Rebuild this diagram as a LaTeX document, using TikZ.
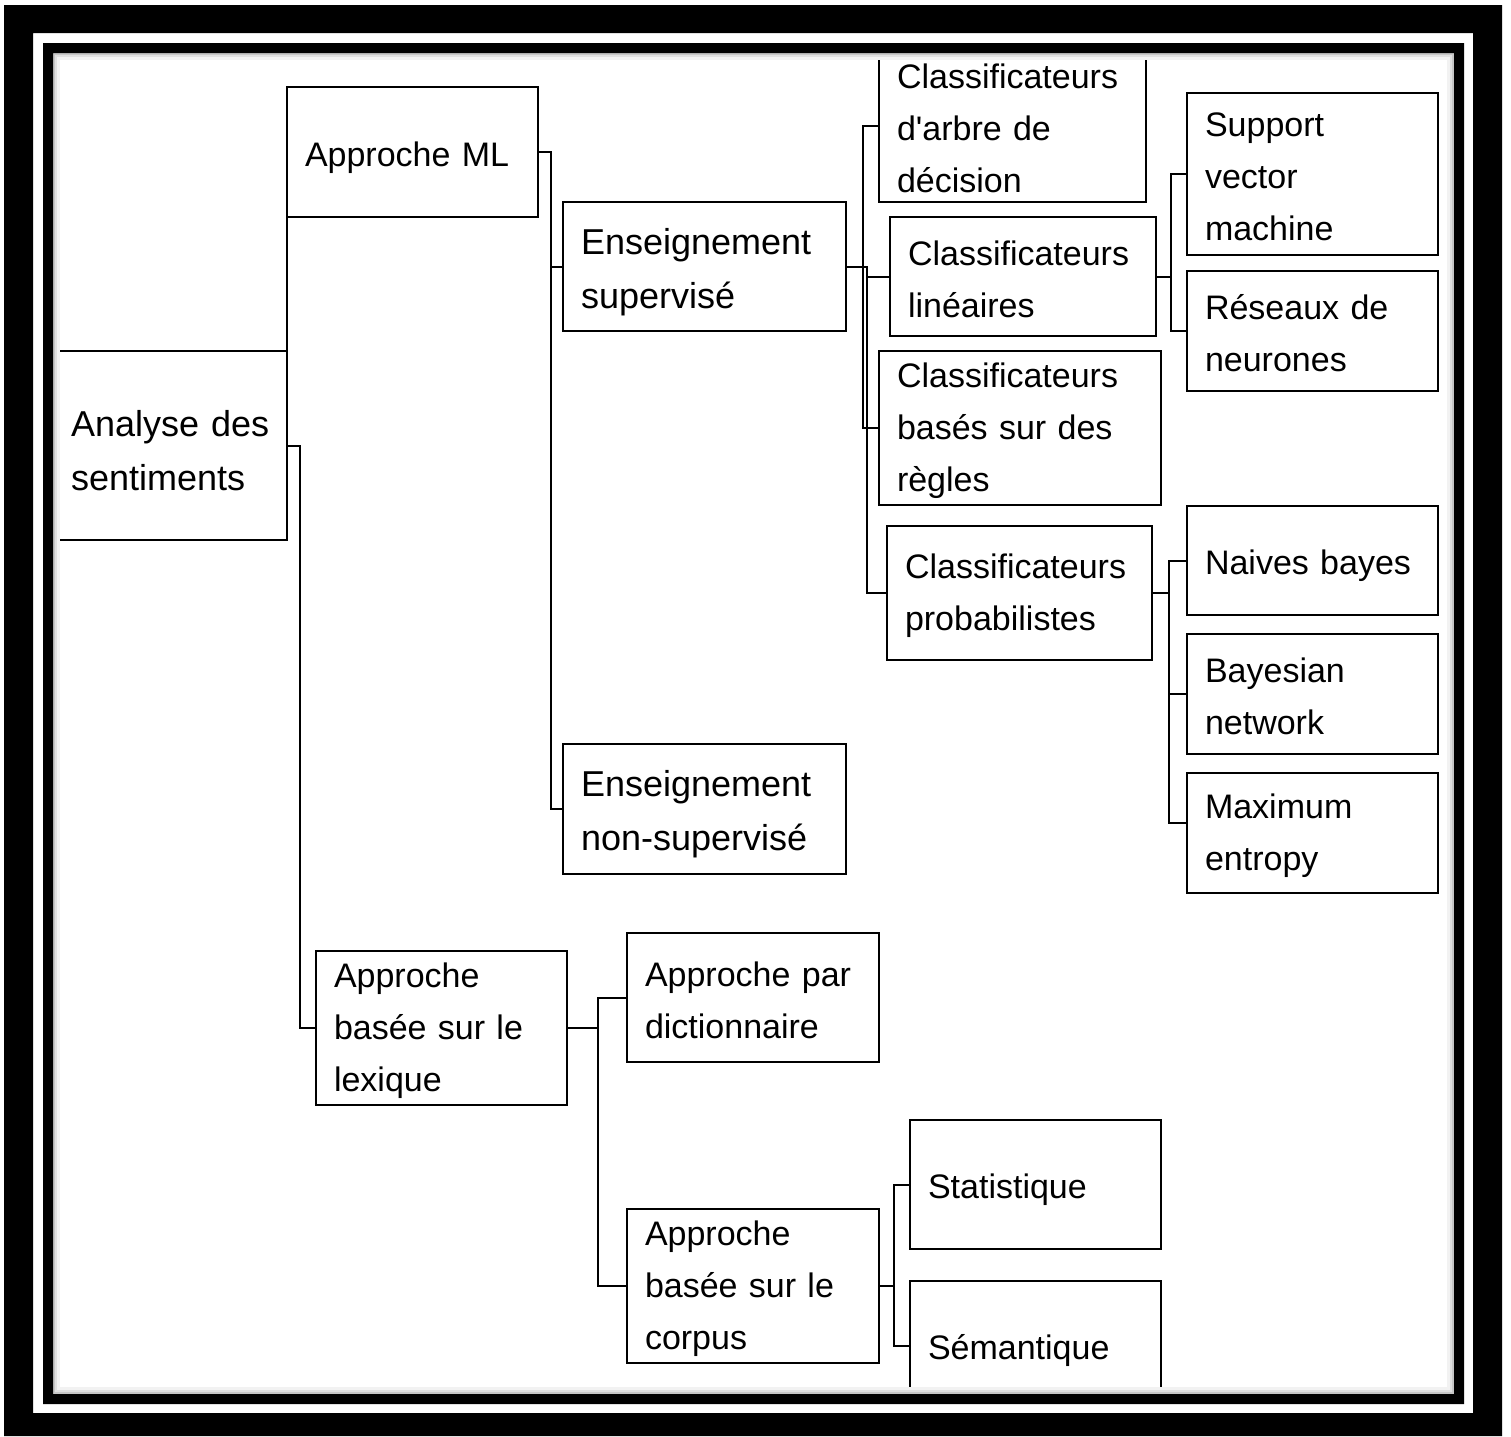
\documentclass[tikz,border=0pt]{standalone}
\usepackage{fontspec}
\setmainfont{Liberation Sans}

\begin{document}
\begin{tikzpicture}[x=1pt,y=1pt,yscale=-1,xscale=1,
  box/.style={draw, line width=2pt, outer sep=0pt, inner xsep=18pt, inner ysep=0pt, align=left,
    font=\fontsize{34}{52}\selectfont, execute at begin node={\rule{0pt}{30pt}}},
  bigtext/.style={font=\fontsize{36}{54}\selectfont, execute at begin node={\rule{0pt}{37pt}}},
  oneline/.style={execute at begin node={\rule{0pt}{36pt}}},
  link/.style={line width=2pt}]
\useasboundingbox (0,0) rectangle (1511,1436);
\fill[white] (0,0) rectangle (1511,1436);

\begin{scope}
\clip (53,53) rectangle (1454,1394);

% Root and first level
\node[box, bigtext, text width=198pt, minimum height=189pt] (analyse) at (170,445.5) {\mbox{Analyse des}\\sentiments};
\node[box, oneline, text width=215pt, minimum height=130pt] (ml) at (412.5,152) {Approche ML};
\node[box, text width=215pt, minimum height=154pt] (lexique) at (441.5,1028) {Approche\\basée sur le\\lexique};

% Approche ML
\node[box, bigtext, text width=247pt, minimum height=129pt] (sup) at (704.5,266.5) {Enseignement\\supervisé};
\node[box, bigtext, text width=247pt, minimum height=130pt] (nonsup) at (704.5,809) {Enseignement\\non-supervisé};

% Enseignement supervise
\node[box, text width=231pt, minimum height=152pt] (arbre) at (1012.5,126) {Classificateurs\\d\textquotesingle arbre de\\décision};
\node[box, text width=230pt, minimum height=119pt] (lin) at (1023,276.5) {Classificateurs\\linéaires};
\node[box, text width=246pt, minimum height=154pt] (regles) at (1020,428) {Classificateurs\\basés sur des\\règles};
\node[box, text width=229pt, minimum height=134pt] (proba) at (1019.5,593) {Classificateurs\\probabilistes};

% Classificateurs lineaires
\node[box, text width=215pt, minimum height=162pt] (svm) at (1312.5,174) {Support\\vector\\machine};
\node[box, text width=215pt, minimum height=120pt] (reseaux) at (1312.5,331) {Réseaux de\\neurones};

% Classificateurs probabilistes
\node[box, oneline, text width=215pt, minimum height=109pt] (naives) at (1312.5,560.5) {Naives bayes};
\node[box, text width=215pt, minimum height=120pt] (bayesian) at (1312.5,694) {Bayesian\\network};
\node[box, text width=215pt, minimum height=120pt] (maxent) at (1312.5,833) {Maximum\\entropy};

% Approche lexique
\node[box, text width=216pt, minimum height=129pt] (dico) at (753,997.5) {Approche par\\dictionnaire};
\node[box, text width=216pt, minimum height=154pt] (corpus) at (753,1286) {Approche\\basée sur le\\corpus};
\node[box, oneline, text width=215pt, minimum height=129pt] (stat) at (1035.5,1184.5) {Statistique};
\node[box, oneline, text width=215pt, minimum height=129pt] (sem) at (1035.5,1345.5) {Sémantique};

% Connectors
\draw[link] (ml.south west) -- (analyse.north east);
\draw[link] (analyse.east) -- ++(13,0) |- (lexique.west);
\draw[link] (ml.east) -- ++(13,0) coordinate (mlbus) |- (sup.west);
\draw[link] (mlbus) |- (nonsup.west);
\draw[link] (sup.east) -- ++(21,0) coordinate (supbus) |- (lin.west);
\draw[link] (supbus) |- (proba.west);
\draw[link] (arbre.west) -| ([xshift=-4pt]supbus) |- (regles.west);
\draw[link] (lin.east) -- ++(15,0) coordinate (linbus) |- (svm.west);
\draw[link] (linbus) |- (reseaux.west);
\draw[link] (proba.east) -- ++(17,0) coordinate (probabus) |- (naives.west);
\draw[link] (probabus) |- (bayesian.west);
\draw[link] (probabus) |- ([yshift=-10pt]maxent.west);
\draw[link] (lexique.east) -- ++(31,0) coordinate (lexbus) |- (dico.west);
\draw[link] (lexbus) |- (corpus.west);
\draw[link] (corpus.east) -- ++(15,0) coordinate (corpbus) |- (stat.west);
\draw[link] (corpbus) |- (sem.west);

% inner shadow
\draw[gray!45, line width=2pt] (54,54) rectangle (1453,1393);
\draw[gray!25, line width=2pt] (56,56) rectangle (1451,1391);
\draw[gray!10, line width=3pt] (58.5,58.5) rectangle (1448.5,1388.5);
\end{scope}

% Frame
\fill[black, even odd rule] (4,5) rectangle (1502,1436) (33,33) rectangle (1473,1413);
\fill[black, even odd rule] (43,43) rectangle (1464,1404) (53,53) rectangle (1454,1394);

\end{tikzpicture}
\end{document}
